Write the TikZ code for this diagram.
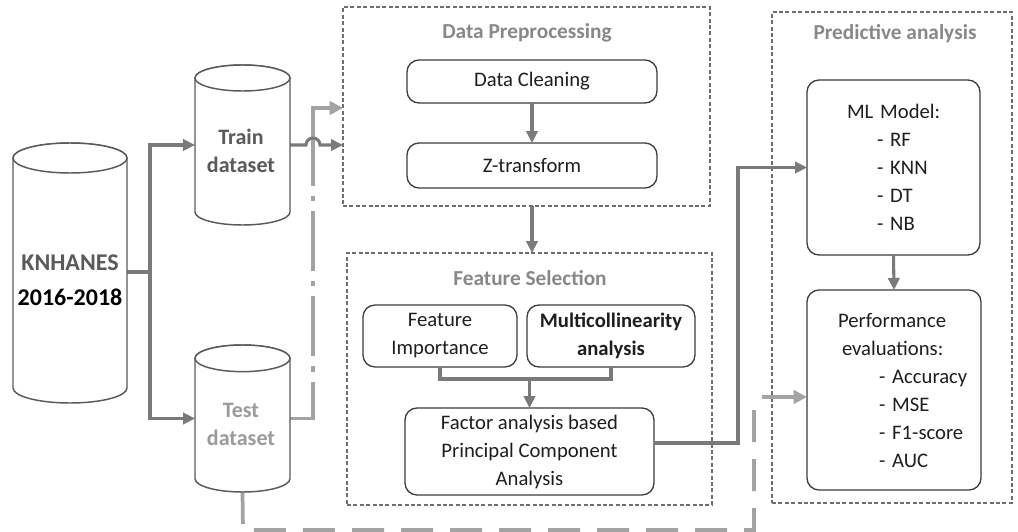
\documentclass[tikz,border=0pt]{standalone}
\usepackage{fontspec}
\setmainfont{Carlito}
\usetikzlibrary{arrows.meta}
\definecolor{lineg}{HTML}{7A7A7A}
\definecolor{testg}{HTML}{A3A3A3}
\definecolor{contg}{HTML}{6E6E6E}
\definecolor{titleg}{HTML}{888888}
\definecolor{cylg}{HTML}{5A5A5A}
\definecolor{boxd}{HTML}{3C3C3C}
\definecolor{txtd}{HTML}{1E1E1E}
\newcommand\drawcyl[3]{%
  \filldraw[cylline] ([yshift=-#3]#1.north west) -- ([yshift=#3]#1.south west)
    arc[start angle=180,end angle=360,x radius=#2,y radius=#3]
    -- ([yshift=-#3]#1.north east)
    arc[start angle=0,end angle=180,x radius=#2,y radius=#3] -- cycle;
  \draw[cylline] ([yshift=-#3]#1.north) ellipse [x radius=#2, y radius=#3];
}
\begin{document}
\begin{tikzpicture}[x=0.75pt,y=-0.75pt,
  every node/.style={inner sep=0pt, outer sep=0pt},
  cont/.style={draw=contg, line width=1.1pt, dash pattern=on 3pt off 1.8pt},
  ctitle/.style={font=\fontsize{16}{19}\selectfont\bfseries, text=titleg},
  rbox/.style={draw=boxd, line width=1pt, rounded corners=9pt, fill=white,
    align=center, text=txtd, font=\fontsize{15.5}{21}\selectfont},
  cylbox/.style={draw=none},
  cylline/.style={draw=cylg, line width=1.1pt, fill=white},
  conn/.style={draw=lineg, line width=2.3pt},
  connarr/.style={conn, -{Triangle[length=9pt,width=8.5pt]}},
  testline/.style={draw=testg, line width=2.3pt},
  testarr/.style={testline, -{Triangle[length=10pt,width=10pt]}},
  cyltext/.style={align=center, font=\fontsize{16.5}{21}\selectfont\bfseries}
]
\useasboundingbox (0,0) rectangle (1018,532);

% containers
\node[cont, minimum width=275.25pt, minimum height=149.25pt] (pre) at (526.5,106.5) {};
\node[cont, minimum width=273.75pt, minimum height=189pt] (fs) at (529.5,379) {};
\node[cont, minimum width=180pt, minimum height=368.25pt] (pred) at (892,257.5) {};
\node[ctitle] (pretitle) at (527,33) {Data Preprocessing};
\node[ctitle] (fstitle) at (530,278) {Feature Selection};
\node[ctitle] (predtitle) at (895,34) {Predictive analysis};

% cylinders
\node[cylbox, minimum width=85.5pt, minimum height=195pt] (knh) at (70,273) {};
\node[cylbox, minimum width=71.25pt, minimum height=120pt] (train) at (242.5,145) {};
\node[cylbox, minimum width=71.25pt, minimum height=110.25pt] (test) at (242.5,418.5) {};

% connectors from KNHANES
\coordinate (trunk) at (150,272);
\draw[conn] (knh.east |- trunk) -- (trunk);
\draw[connarr] (trunk) |- (train.west);
\draw[connarr] (trunk) |- (test.west);

% test dataset dashed connectors
\coordinate (tbend) at (313,418.5);
\coordinate (ttop) at (313,126);
\draw[testline, dash pattern=on 45pt off 7.5pt on 4pt off 7.5pt] (test.east) -- (tbend) -- (ttop);
\draw[testarr] (ttop) |- (pre.west |- 0,108);
\coordinate (tb1) at (243,530);
\coordinate (tb2) at (754,530);
\coordinate (tb3) at (754,406);
\draw[testline, line width=2.8pt, dash pattern=on 24pt off 12.75pt] (test.south) -- (tb1) -- (tb2) -- (tb3);
\coordinate (pin) at (762,397);

% train to preprocessing with hop
\draw[connarr] (train.east) -- (306,145) arc[start angle=180,end angle=0,radius=5.25pt] -- (pre.west |- train.east);

\drawcyl{knh}{42.75pt}{11.25pt}
\drawcyl{train}{35.625pt}{9.75pt}
\drawcyl{test}{35.625pt}{10pt}

\node[cyltext, font=\fontsize{18}{26.25}\selectfont\bfseries] (knhlabel) at (70,280)
  {\textcolor{cylg}{KNHANES}\\\textcolor{black}{2016-2018}};
\node[cyltext, text=cylg] (trainlabel) at (241,151) {Train\\dataset};
\node[cyltext, text=testg!95!black] (testlabel) at (241,424) {Test\\dataset};

% preprocessing boxes
\node[rbox, minimum width=187.5pt, minimum height=32.25pt] (dc) at (532,81.5) {Data Cleaning};
\node[rbox, minimum width=187.5pt, minimum height=33.75pt] (zt) at (532,165.5) {Z-transform};
\draw[connarr] (dc.south) -- (zt.north);
\draw[connarr] (dc.south |- pre.south) -- (dc.south |- fs.north);

% feature selection boxes
\node[rbox, minimum width=115.5pt, minimum height=46.5pt] (fi) at (440,336) {Feature\\Importance};
\node[rbox, minimum width=126pt, minimum height=46.5pt] (mc) at (611,336) {\textbf{Multicollinearity}\\\textbf{analysis}};
\node[rbox, minimum width=186.75pt, minimum height=65.25pt] (fa) at (529.5,451.5)
  {Factor analysis based\\Principal Component\\Analysis};
\coordinate (fjoin) at (529.5,379);
\draw[conn] (fi.south) |- (fjoin) -| (mc.south);
\draw[connarr] (fjoin) -- (fa.north);

% predictive boxes
\node[rbox, align=left, text width=69.75pt, minimum width=129.75pt, minimum height=131.25pt] (ml) at (893.5,167.5)
  {\mbox{ML Model:}\\\mbox{\hspace*{22.5pt}- RF}\\\mbox{\hspace*{22.5pt}- KNN}\\\mbox{\hspace*{22.5pt}- DT}\\\mbox{\hspace*{22.5pt}- NB}};
\node[rbox, align=left, text width=84pt, minimum width=130.5pt, minimum height=150pt] (perf) at (894,390)
  {\mbox{Performance}\\\mbox{\hspace*{3pt}evaluations:}\\\mbox{\hspace*{30.75pt}- Accuracy}\\\mbox{\hspace*{30.75pt}- MSE}\\\mbox{\hspace*{30.75pt}- F1-score}\\\mbox{\hspace*{30.75pt}- AUC}};
\draw[connarr] (ml.south) -- (perf.north);

% factor to ML
\draw[connarr] (fa.east |- 0,443) -- (738,443) |- (ml.west);
% test to performance
\draw[testarr] (pin) -- (perf.west |- pin);
\end{tikzpicture}
\end{document}
